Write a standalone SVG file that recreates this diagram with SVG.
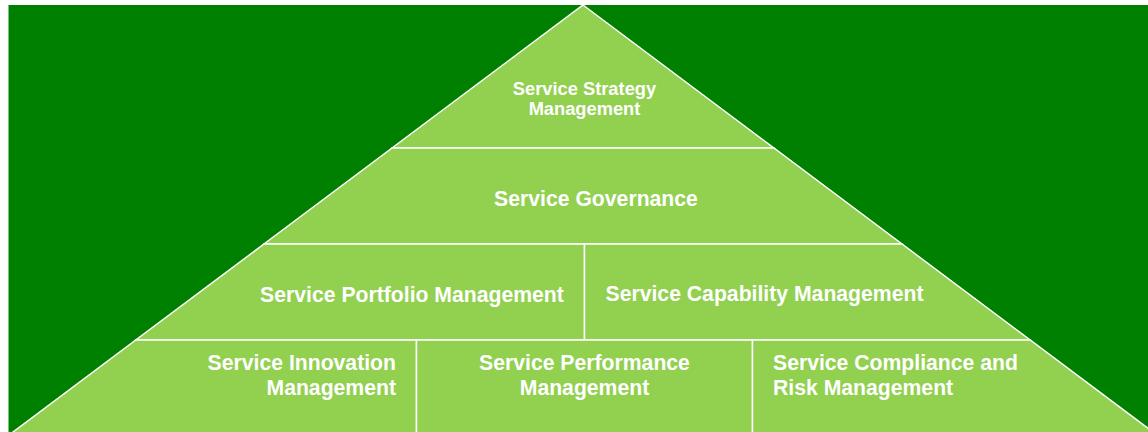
<svg xmlns="http://www.w3.org/2000/svg" width="1148" height="432" viewBox="0 0 1148 432">
  <defs>
    <style>
      .bg { fill: #008000; }
      .cell { fill: #92D050; stroke: #FFFFFF; stroke-width: 1.5; stroke-linejoin: miter; }
      .lbl { font-family: "Liberation Sans", Arial, sans-serif; font-weight: bold; fill: #FFFFFF; font-size: 21.2px; }
      .lbl-sm { font-size: 18.3px; }
    </style>
  </defs>

  <!-- backdrop -->
  <rect x="0" y="0" width="1148" height="432" fill="#FFFFFF"/>
  <rect class="bg" x="8.5" y="5" width="1140" height="428"/>

  <!-- apex -->
  <g id="strategy">
    <polygon class="cell" points="583,5 773.9,148 392.1,148"/>
    <text class="lbl lbl-sm" text-anchor="middle" x="584.5" y="95">Service Strategy</text>
    <text class="lbl lbl-sm" text-anchor="middle" x="584.5" y="115">Management</text>
  </g>

  <!-- second tier -->
  <g id="governance">
    <polygon class="cell" points="392.1,148 773.9,148 902,244 264,244"/>
    <text class="lbl" text-anchor="middle" x="596" y="206">Service Governance</text>
  </g>

  <!-- third tier -->
  <g id="portfolio">
    <polygon class="cell" points="264,244 584.5,244 584.5,340 135.8,340"/>
    <text class="lbl" text-anchor="middle" x="412" y="302">Service Portfolio Management</text>
  </g>
  <g id="capability">
    <polygon class="cell" points="584.5,244 902,244 1030.2,340 584.5,340"/>
    <text class="lbl" text-anchor="middle" x="764.5" y="301">Service Capability Management</text>
  </g>

  <!-- base tier -->
  <g id="innovation">
    <polygon class="cell" points="135.8,340 416.5,340 416.5,440 2.4,440"/>
    <text class="lbl" text-anchor="end" x="396" y="370">Service Innovation</text>
    <text class="lbl" text-anchor="end" x="396" y="395">Management</text>
  </g>
  <g id="performance">
    <polygon class="cell" points="416.5,340 752.5,340 752.5,440 416.5,440"/>
    <text class="lbl" text-anchor="middle" x="584.5" y="370">Service Performance</text>
    <text class="lbl" text-anchor="middle" x="584.5" y="395">Management</text>
  </g>
  <g id="compliance">
    <polygon class="cell" points="752.5,340 1030.2,340 1163.7,440 752.5,440"/>
    <text class="lbl" text-anchor="start" x="773" y="370">Service Compliance and</text>
    <text class="lbl" text-anchor="start" x="773" y="395">Risk Management</text>
  </g>

  <!-- no connectors in this layered chart -->
  <g id="connectors"/>
</svg>
